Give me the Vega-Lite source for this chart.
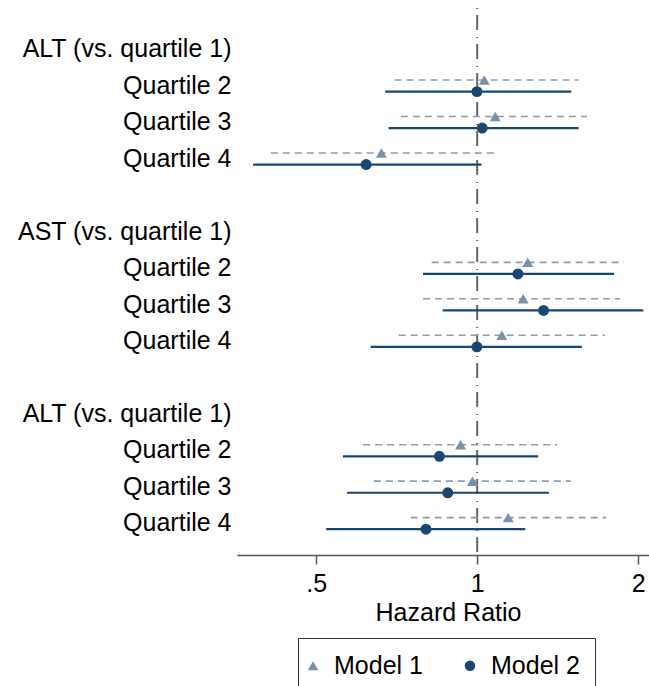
{
  "$schema": "https://vega.github.io/schema/vega-lite/v6.json",
  "autosize": {"type": "none"},
  "padding": {"left": 237, "top": 8, "right": 0, "bottom": 131},
  "width": 422,
  "height": 547,
  "background": "white",
  "datasets": {
    "est": [
      {"row": "A|Quartile 2", "model": "Model 1", "hr": 1.031, "lo": 0.701, "hi": 1.546},
      {"row": "A|Quartile 2", "model": "Model 2", "hr": 0.999, "lo": 0.673, "hi": 1.500},
      {"row": "A|Quartile 3", "model": "Model 1", "hr": 1.081, "lo": 0.720, "hi": 1.605},
      {"row": "A|Quartile 3", "model": "Model 2", "hr": 1.022, "lo": 0.683, "hi": 1.548},
      {"row": "A|Quartile 4", "model": "Model 1", "hr": 0.662, "lo": 0.411, "hi": 1.092},
      {"row": "A|Quartile 4", "model": "Model 2", "hr": 0.620, "lo": 0.381, "hi": 1.019},
      {"row": "B|Quartile 2", "model": "Model 1", "hr": 1.243, "lo": 0.822, "hi": 1.882},
      {"row": "B|Quartile 2", "model": "Model 2", "hr": 1.192, "lo": 0.792, "hi": 1.803},
      {"row": "B|Quartile 3", "model": "Model 1", "hr": 1.219, "lo": 0.792, "hi": 1.850},
      {"row": "B|Quartile 3", "model": "Model 2", "hr": 1.331, "lo": 0.862, "hi": 2.045},
      {"row": "B|Quartile 4", "model": "Model 1", "hr": 1.112, "lo": 0.713, "hi": 1.734},
      {"row": "B|Quartile 4", "model": "Model 2", "hr": 0.999, "lo": 0.632, "hi": 1.570},
      {"row": "C|Quartile 2", "model": "Model 1", "hr": 0.931, "lo": 0.612, "hi": 1.412},
      {"row": "C|Quartile 2", "model": "Model 2", "hr": 0.850, "lo": 0.561, "hi": 1.301},
      {"row": "C|Quartile 3", "model": "Model 1", "hr": 0.980, "lo": 0.641, "hi": 1.496},
      {"row": "C|Quartile 3", "model": "Model 2", "hr": 0.881, "lo": 0.571, "hi": 1.362},
      {"row": "C|Quartile 4", "model": "Model 1", "hr": 1.143, "lo": 0.751, "hi": 1.742},
      {"row": "C|Quartile 4", "model": "Model 2", "hr": 0.802, "lo": 0.522, "hi": 1.230}
    ],
    "ref": [{"hr": 1}]
  },
  "layer": [
    {
      "data": {"name": "ref"},
      "mark": {"type": "rule", "color": "#666666", "strokeWidth": 2, "strokeDash": [1, 6, 15, 7]},
      "encoding": {
        "x": {"field": "hr", "type": "quantitative", "title": "Hazard Ratio",
              "axis": {"values": [0.5, 1, 2]},
              "scale": {"type": "log", "domain": [0.3555, 2.188], "nice": false, "zero": false}}
      }
    },
    {
      "data": {"name": "est"},
      "transform": [{"filter": "datum.model === 'Model 1'"}],
      "mark": {"type": "rule", "color": "#8a9cb0", "strokeWidth": 1.6, "strokeDash": [7, 5]},
      "encoding": {
        "x": {"field": "lo", "type": "quantitative", "title": "Hazard Ratio",
              "axis": {"values": [0.5, 1, 2]},
              "scale": {"type": "log", "domain": [0.3555, 2.188], "nice": false, "zero": false}},
        "x2": {"field": "hi"},
        "y": {"field": "row", "type": "nominal", "title": null,
              "scale": {"type": "band", "paddingInner": 1, "paddingOuter": 1.1266, "align": 0.567,
                        "domain": ["A|ALT (vs. quartile 1)", "A|Quartile 2", "A|Quartile 3", "A|Quartile 4", "gap1|",
                                   "B|AST (vs. quartile 1)", "B|Quartile 2", "B|Quartile 3", "B|Quartile 4", "gap2|",
                                   "C|ALT (vs. quartile 1)", "C|Quartile 2", "C|Quartile 3", "C|Quartile 4"]}},
        "yOffset": {"field": "model", "type": "nominal",
                    "scale": {"type": "point", "domain": ["Model 1", "Model 2"], "range": [-5.8, 5.8], "padding": 0}}
      }
    },
    {
      "data": {"name": "est"},
      "transform": [{"filter": "datum.model === 'Model 2'"}],
      "mark": {"type": "rule", "color": "#1a476f", "strokeWidth": 2.2},
      "encoding": {
        "x": {"field": "lo", "type": "quantitative", "title": "Hazard Ratio",
              "axis": {"values": [0.5, 1, 2]},
              "scale": {"type": "log", "domain": [0.3555, 2.188], "nice": false, "zero": false}},
        "x2": {"field": "hi"},
        "y": {"field": "row", "type": "nominal", "title": null,
              "scale": {"type": "band", "paddingInner": 1, "paddingOuter": 1.1266, "align": 0.567}},
        "yOffset": {"field": "model", "type": "nominal",
                    "scale": {"type": "point", "domain": ["Model 1", "Model 2"], "range": [-5.8, 5.8], "padding": 0}}
      }
    },
    {
      "data": {"name": "est"},
      "mark": {"type": "point", "filled": true, "opacity": 1, "strokeWidth": 0, "size": 120},
      "encoding": {
        "x": {"field": "hr", "type": "quantitative", "title": "Hazard Ratio",
              "axis": {"values": [0.5, 1, 2]},
              "scale": {"type": "log", "domain": [0.3555, 2.188], "nice": false, "zero": false}},
        "y": {"field": "row", "type": "nominal", "title": null,
              "scale": {"type": "band", "paddingInner": 1, "paddingOuter": 1.1266, "align": 0.567}},
        "yOffset": {"field": "model", "type": "nominal",
                    "scale": {"type": "point", "domain": ["Model 1", "Model 2"], "range": [-5.8, 5.8], "padding": 0}},
        "color": {"field": "model", "type": "nominal",
                  "scale": {"domain": ["Model 1", "Model 2"], "range": ["#7990a8", "#1a476f"]},
                  "legend": {"title": null, "symbolSize": 110}},
        "shape": {"field": "model", "type": "nominal",
                  "scale": {"domain": ["Model 1", "Model 2"], "range": ["triangle-up", "circle"]},
                  "legend": {"title": null, "symbolSize": 110}}
      }
    }
  ],
  "config": {
    "font": "Liberation Sans",
    "view": {"stroke": null},
    "axisX": {
      "labelExpr": "datum.value < 1 ? '.5' : toString(datum.value)",
      "grid": false,
      "domainColor": "#555555", "domainWidth": 1.5,
      "tickColor": "#555555", "tickWidth": 1.5, "tickSize": 9,
      "labelFontSize": 25, "labelColor": "#000000", "labelPadding": 7.5,
      "titleFontSize": 25, "titleFontWeight": "normal", "titleColor": "#000000", "titlePadding": 4
    },
    "axisY": {
      "domain": false, "ticks": false, "tickSize": 0, "grid": false,
      "labelExpr": "split(datum.value, '|')[1]",
      "labelFontSize": 25, "labelColor": "#000000", "labelPadding": 6, "labelLimit": 400, "labelAlign": "right"
    },
    "legend": {
      "orient": "none", "legendX": 61, "legendY": 630, "direction": "horizontal",
      "strokeColor": "#333333", "padding": 15,
      "labelFontSize": 25, "labelColor": "#000000", "labelOffset": 8.5,
      "symbolOffset": -12.5,
      "columnPadding": 41, "symbolSize": 110, "symbolStrokeWidth": 0
    }
  }
}
